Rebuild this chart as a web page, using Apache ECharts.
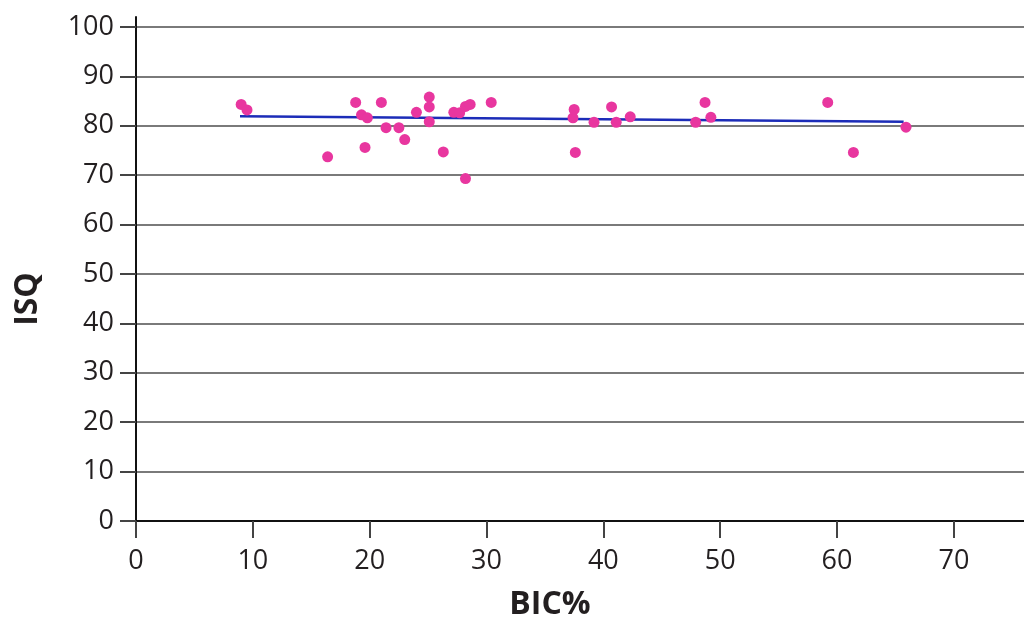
<!DOCTYPE html>
<html>
<head>
<meta charset="utf-8">
<script src="https://cdn.jsdelivr.net/npm/echarts@6/dist/echarts.min.js"></script>
<style>
html, body { margin: 0; padding: 0; background: #fff; }
#chart { width: 1024px; height: 619px; }
</style>
</head>
<body>
<div id="chart"></div>
<script>
// BIC% (x) and ISQ (y)
var bicPct = [9.0, 9.5, 16.4, 18.8, 19.3, 19.6, 19.8, 21.0, 21.4, 22.5, 23.0, 24.0, 25.1, 25.1, 25.1, 26.3, 27.2, 27.7, 28.2, 28.2, 28.6, 30.4,
              37.4, 37.5, 37.6, 39.2, 40.7, 41.1, 42.3, 47.9, 48.7, 49.2, 59.2, 61.4, 65.9];
var isq    = [84.3, 83.2, 73.7, 84.7, 82.2, 75.6, 81.6, 84.7, 79.6, 79.6, 77.2, 82.7, 85.8, 83.8, 80.8, 74.7, 82.7, 82.6, 83.9, 69.3, 84.3, 84.7,
              81.6, 83.3, 74.6, 80.7, 83.8, 80.7, 81.8, 80.7, 84.7, 81.7, 84.7, 74.6, 79.7];
// regression line ends
var trendX = [8.9, 65.7];
var trendY = [81.9, 80.8];
var xTicks = [0, 10, 20, 30, 40, 50, 60, 70];
var yTicks = [0, 10, 20, 30, 40, 50, 60, 70, 80, 90, 100];

var chart = {
    init : function() {
        chart.funcs.render();
    }
    ,funcs : {
        pairs : function(xs, ys) {
            var out = [];
            for (var i = 0; i < xs.length; i++) {
                out.push([xs[i], ys[i]]);
            }
            return out;
        }
        ,render : function() {
            var myChart = echarts.init(document.getElementById('chart'));
            var font = '"Open Sans", "Noto Sans", sans-serif';
            var option = {
                animation : false,
                backgroundColor : '#fff',
                // 固定绘图区，不让v6自动收缩
                grid : { left : 136, right : 0, top : 17, bottom : 98, outerBoundsMode : 'none', containLabel : false },
                xAxis : {
                    type : 'value',
                    min : 0,
                    max : 76,
                    name : 'BIC%',
                    nameLocation : 'middle',
                    nameGap : 68,
                    nameTextStyle : { fontFamily : font, fontSize : 32, fontWeight : 'bold', color : '#231f20', padding : [0, 60, 0, 0] },
                    axisLine : { show : true, onZero : false, lineStyle : { color : '#111', width : 2 } },
                    axisTick : { show : true, inside : false, length : 17, customValues : xTicks, lineStyle : { color : '#444', width : 2 } },
                    axisLabel : { customValues : xTicks, margin : 27, fontFamily : font, fontSize : 27, color : '#231f20' },
                    splitLine : { show : false }
                },
                yAxis : {
                    type : 'value',
                    min : 0,
                    max : 102,
                    name : 'ISQ',
                    nameLocation : 'middle',
                    nameGap : 92,
                    // 往下挪一点，和原图一样
                    nameTextStyle : { fontFamily : font, fontSize : 32, fontWeight : 'bold', color : '#231f20', padding : [0, 60, 0, 0] },
                    axisLine : { show : true, onZero : false, lineStyle : { color : '#111', width : 2 } },
                    axisTick : { show : true, inside : false, length : 16, customValues : yTicks, lineStyle : { color : '#444', width : 2 } },
                    axisLabel : { customValues : yTicks, margin : 22, fontFamily : font, fontSize : 27, color : '#231f20' },
                    splitLine : { show : true, lineStyle : { color : '#7a7a7a', width : 2 } }
                },
                series : [
                    {
                        name : 'trend',
                        type : 'line',
                        data : chart.funcs.pairs(trendX, trendY),
                        symbol : 'none',
                        z : 2,
                        lineStyle : { color : '#1c2cb8', width : 2.5 }
                    },
                    {
                        name : 'ISQ',
                        type : 'scatter',
                        data : chart.funcs.pairs(bicPct, isq),
                        symbolSize : 11,
                        z : 3,
                        itemStyle : { color : '#e8369f', opacity : 1 }
                    }
                ]
            };
            myChart.setOption(option, true);
        }
    }
};
chart.init();
</script>
</body>
</html>
